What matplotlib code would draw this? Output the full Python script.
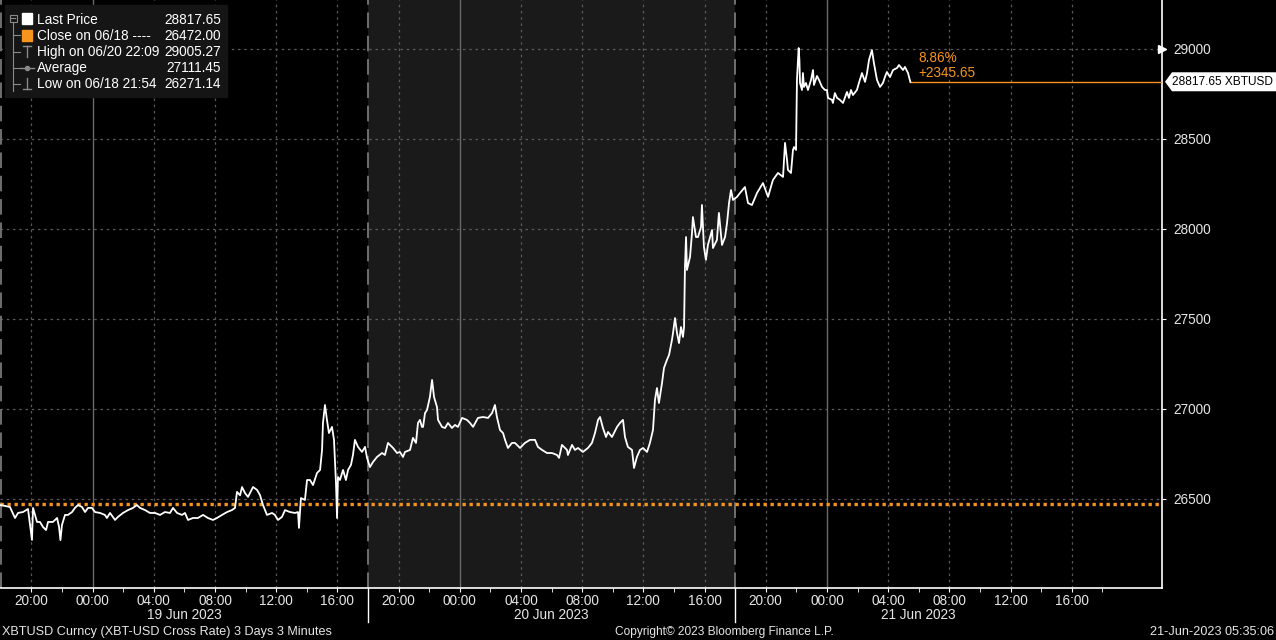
import numpy as np
import matplotlib
matplotlib.use('Agg')
import matplotlib.pyplot as plt
from matplotlib.patches import Rectangle, Polygon

plt.rcParams['font.family'] = ['Liberation Sans', 'DejaVu Sans']

# XBTUSD, 3 min bars (hours since 18 Jun 2023 00:00)
t_hours = [17.95, 18.28, 18.60, 18.93, 19.13, 19.45, 19.78, 20.04, 20.11, 20.37, 20.56, 20.76, 20.96, 21.09,
           21.41, 21.68, 21.81, 21.90, 22.00, 22.20, 22.39, 22.66, 22.85, 23.05, 23.31, 23.51, 23.70, 23.96,
           24.16, 24.49, 24.81, 24.94, 25.14, 25.47, 25.66, 25.99, 26.32, 26.64, 26.90, 27.10, 27.43, 27.75,
           28.08, 28.41, 28.73, 29.06, 29.26, 29.52, 29.85, 30.04, 30.24, 30.56, 30.89, 31.22, 31.54, 31.87,
           32.13, 32.46, 32.79, 33.11, 33.31, 33.44, 33.64, 33.77, 33.96, 34.16, 34.49, 34.75, 34.94, 35.14,
           35.40, 35.73, 35.92, 36.12, 36.38, 36.58, 36.90, 37.23, 37.43, 37.49, 37.62, 37.88, 38.02, 38.21,
           38.41, 38.67, 38.87, 39.00, 39.06, 39.19, 39.32, 39.45, 39.65, 39.78, 39.91, 39.98, 40.04, 40.17,
           40.37, 40.56, 40.70, 40.89, 41.02, 41.15, 41.35, 41.61, 41.81, 41.94, 42.13, 42.33, 42.59, 42.92,
           43.11, 43.31, 43.64, 43.90, 44.09, 44.29, 44.42, 44.75, 44.94, 45.14, 45.27, 45.40, 45.53, 45.60,
           45.73, 45.86, 46.05, 46.19, 46.32, 46.51, 46.58, 46.84, 47.04, 47.23, 47.49, 47.69, 47.88, 48.15,
           48.47, 48.67, 48.87, 49.19, 49.52, 49.85, 50.11, 50.30, 50.43, 50.63, 50.83, 50.96, 51.15, 51.41,
           51.61, 51.94, 52.26, 52.59, 52.92, 53.11, 53.38, 53.70, 54.03, 54.36, 54.49, 54.68, 55.01, 55.07,
           55.34, 55.53, 55.73, 56.05, 56.38, 56.64, 56.84, 57.04, 57.17, 57.36, 57.56, 57.69, 57.95, 58.28,
           58.47, 58.67, 58.80, 58.99, 59.26, 59.39, 59.58, 59.78, 59.98, 60.24, 60.43, 60.63, 60.76, 60.89,
           61.02, 61.22, 61.35, 61.54, 61.68, 61.87, 61.94, 62.07, 62.20, 62.33, 62.46, 62.59, 62.66, 62.72,
           62.79, 62.85, 63.05, 63.18, 63.24, 63.44, 63.57, 63.77, 63.83, 63.96, 64.09, 64.22, 64.49, 64.55,
           64.81, 64.94, 65.14, 65.34, 65.47, 65.60, 65.73, 65.86, 66.12, 66.32, 66.64, 66.84, 67.10, 67.43,
           67.82, 68.15, 68.47, 68.80, 69.13, 69.26, 69.39, 69.45, 69.65, 69.78, 69.85, 69.98, 70.04, 70.15,
           70.20, 70.24, 70.37, 70.43, 70.50, 70.63, 70.76, 70.96, 71.09, 71.15, 71.35, 71.48, 71.68, 71.87,
           72.00, 72.07, 72.33, 72.39, 72.52, 72.66, 72.85, 73.05, 73.31, 73.44, 73.57, 73.70, 73.96, 74.09,
           74.29, 74.49, 74.62, 74.75, 74.94, 75.07, 75.27, 75.47, 75.66, 75.79, 75.92, 76.12, 76.32, 76.58,
           76.71, 76.97, 77.10, 77.30, 77.45]
price = [26466, 26461, 26455, 26394, 26422, 26427, 26444, 26272, 26450, 26372, 26372, 26344, 26327, 26372,
         26372, 26394, 26344, 26271, 26355, 26411, 26411, 26427, 26450, 26466, 26455, 26427, 26450, 26450,
         26427, 26422, 26411, 26394, 26422, 26383, 26400, 26422, 26438, 26450, 26466, 26450, 26438, 26422,
         26422, 26411, 26427, 26422, 26450, 26422, 26411, 26422, 26383, 26394, 26394, 26411, 26394, 26383,
         26394, 26411, 26427, 26438, 26450, 26539, 26520, 26566, 26533, 26511, 26566, 26550, 26522, 26466,
         26411, 26422, 26411, 26383, 26400, 26438, 26427, 26422, 26427, 26339, 26505, 26494, 26605, 26605,
         26577, 26644, 26661, 26772, 26922, 27022, 26939, 26866, 26900, 26828, 26589, 26394, 26622, 26605,
         26661, 26605, 26661, 26689, 26744, 26828, 26789, 26761, 26789, 26728, 26677, 26705, 26733, 26755,
         26744, 26811, 26783, 26755, 26761, 26733, 26761, 26772, 26839, 26811, 26922, 26939, 26900, 26900,
         26977, 26994, 27066, 27161, 27066, 27011, 26939, 26900, 26894, 26922, 26894, 26911, 26900, 26950,
         26939, 26922, 26900, 26950, 26955, 26950, 26977, 27022, 26955, 26883, 26866, 26828, 26783, 26811,
         26811, 26783, 26811, 26828, 26828, 26789, 26772, 26755, 26755, 26744, 26728, 26800, 26772, 26744,
         26800, 26772, 26783, 26761, 26783, 26811, 26866, 26939, 26955, 26894, 26844, 26872, 26844, 26900,
         26922, 26939, 26844, 26789, 26772, 26672, 26733, 26772, 26783, 26761, 26811, 26883, 27050, 27116,
         27033, 27144, 27228, 27272, 27300, 27383, 27422, 27505, 27422, 27366, 27455, 27400, 27455, 27789,
         27955, 27772, 27844, 27977, 28066, 27955, 27955, 28011, 28133, 27900, 27828, 27911, 27994, 27894,
         27939, 28089, 27911, 27955, 28033, 28144, 28216, 28161, 28178, 28200, 28233, 28144, 28133, 28200,
         28255, 28178, 28272, 28311, 28289, 28478, 28383, 28328, 28311, 28439, 28455, 28439, 28828, 29005,
         28939, 28811, 28772, 28866, 28789, 28811, 28772, 28828, 28883, 28800, 28850, 28828, 28789, 28772,
         28772, 28728, 28717, 28700, 28755, 28728, 28717, 28700, 28761, 28728, 28772, 28744, 28772, 28811,
         28866, 28817, 28866, 28939, 28994, 28922, 28828, 28789, 28811, 28844, 28872, 28844, 28883, 28894,
         28911, 28883, 28900, 28866, 28817.65]

last_price = 28817.65
prev_close = 26472.00
high_price, high_when = 29005.27, "06/20 22:09"
avg_price = 27111.45
low_price, low_when = 26271.14, "06/18 21:54"
close_day = "06/18"
y_ticks = [26500, 27000, 27500, 28000, 28500, 29000]
x_ticks = list(range(20, 89, 4))
day_bounds = [18, 42, 66]
day_labels = ["19 Jun 2023", "20 Jun 2023", "21 Jun 2023"]

orange = '#f7941d'
txt = '#e6e6e6'
fs = 9.8
W, H = 1276, 640

fig = plt.figure(figsize=(W / 100, H / 100), dpi=100, facecolor='black')
ax = fig.add_axes([0, 1 - 588 / H, 1162 / W, 588 / H])
ax.set_facecolor('black')
ax.set_xlim(17.95, 93.9)
ax.set_ylim(26005, 29272)

# shaded day + grid
ax.axvspan(42, 66, color='#1a1a1a', zorder=0, lw=0)
for yv in y_ticks:
    ax.axhline(yv, color='#5a5a5a', lw=0.9, ls=(0, (2, 3)), zorder=1)
for h in x_ticks:
    if h % 24 == 0:
        ax.axvline(h, color='#6a6a6a', lw=1, zorder=1)
    else:
        ax.axvline(h, color='#5a5a5a', lw=0.9, ls=(0, (2, 3)), zorder=1)
for h in day_bounds:
    ax.axvline(h, color='#707070', lw=1.4, ls=(0, (8, 4)), zorder=1)

ax.axhline(prev_close, color=orange, lw=2.4, ls=(0, (1, 1.1)), zorder=2)
ax.plot(t_hours, price, color='white', lw=1.3, zorder=5)
ax.plot([t_hours[-1], 93.9], [last_price, last_price], color=orange, lw=1, zorder=4)

chg = last_price - prev_close
ax.text(t_hours[-1] + 0.55, 28950, f"{chg / prev_close * 100:.2f}%", color=orange, fontsize=fs, va='center')
ax.text(t_hours[-1] + 0.55, 28866, f"+{chg:.2f}", color=orange, fontsize=fs, va='center')

for s in ['top', 'left']:
    ax.spines[s].set_visible(False)
for s in ['bottom', 'right']:
    ax.spines[s].set_color('white')
    ax.spines[s].set_linewidth(1.2)

ax.yaxis.tick_right()
ax.set_yticks(y_ticks)
ax.set_yticklabels([str(v) for v in y_ticks])
ax.tick_params(axis='y', colors='white', labelcolor=txt, labelsize=fs, length=3, pad=5)
ax.set_xticks(x_ticks)
ax.set_xticklabels([f"{h % 24:02d}:00" for h in x_ticks])
ax.set_xticks(list(range(22, 91, 4)), minor=True)
ax.tick_params(axis='x', which='both', colors='white', labelcolor=txt, labelsize=fs, length=3, pad=1)

xt = ax.get_xaxis_transform()
for i, lab in enumerate(day_labels):
    ax.text(day_bounds[i] + 12, -0.0465, lab, transform=xt, ha='center', va='center',
            color=txt, fontsize=fs)
for h in day_bounds[1:]:
    ax.plot([h, h], [0, -0.058], transform=xt, color='white', lw=1, clip_on=False)

ax.plot([1.0], [29000], marker='>', color='white', markersize=6, transform=ax.get_yaxis_transform(),
        clip_on=False, zorder=6)

# overlay in pixel coords for legend, price tag and footer
ov = fig.add_axes([0, 0, 1, 1], zorder=10)
ov.set_xlim(0, W)
ov.set_ylim(H, 0)
ov.axis('off')
ov.patch.set_alpha(0)

tag_y = H - ax.transData.transform((t_hours[-1], last_price))[1]
ov.add_patch(Polygon([(1165, tag_y), (1172, tag_y - 9.5), (1276, tag_y - 9.5), (1276, tag_y + 9.5),
                      (1172, tag_y + 9.5)], closed=True, fc='white', ec='none', zorder=2))
ov.text(1172, tag_y, f"{last_price:.2f} XBTUSD", color='black', fontsize=8.6, va='center', ha='left', zorder=3)

ov.add_patch(Rectangle((5, 5), 222, 92, color='#151515', zorder=1))
tree = '#8a8a8a'
ov.add_patch(Rectangle((9.5, 14.5), 7, 7, fill=False, ec=tree, lw=0.8, zorder=2))
ov.plot([11, 15], [18, 18], color=tree, lw=0.8, zorder=2)
ov.plot([13, 13], [21.5, 91], color=tree, lw=0.8, zorder=2)
for yy in [35, 52, 68, 84]:
    ov.plot([13, 20], [yy, yy], color=tree, lw=0.8, zorder=2)
ov.add_patch(Rectangle((22, 13), 10, 11, color='white', zorder=3))
ov.add_patch(Rectangle((22, 30), 10, 11, color=orange, zorder=3))
ov.plot([23, 31], [46, 46], color=tree, lw=1, zorder=3)
ov.plot([27, 27], [46, 57], color=tree, lw=1, zorder=3)
ov.plot([20, 34], [68, 68], color=tree, lw=1, zorder=3)
ov.plot([27], [68], marker='o', ms=3, color=tree, zorder=3)
ov.plot([27, 27], [78, 89], color=tree, lw=1, zorder=3)
ov.plot([23, 31], [89, 89], color=tree, lw=1, zorder=3)

rows = [("Last Price", last_price), (f"Close on {close_day} ----", prev_close),
        (f"High on {high_when}", high_price), ("Average", avg_price), (f"Low on {low_when}", low_price)]
for i, (name, val) in enumerate(rows):
    yy = 19.5 + i * 16.2
    ov.text(37, yy, name, color='white', fontsize=fs, va='center', ha='left', zorder=4)
    ov.text(221, yy, f"{val:.2f}", color='white', fontsize=fs, va='center', ha='right', zorder=4)

ov.text(2, 632, "XBTUSD Curncy (XBT-USD Cross Rate) 3 Days 3 Minutes", color=txt, fontsize=9.1,
        va='center', ha='left')
ov.text(724, 632, "Copyright\u00a9 2023 Bloomberg Finance L.P.", color=txt, fontsize=8.6,
        va='center', ha='center')
ov.text(1274, 632, "21-Jun-2023 05:35:06", color=txt, fontsize=9.1, va='center', ha='right')

fig.savefig('out.png', dpi=100, facecolor='black')
